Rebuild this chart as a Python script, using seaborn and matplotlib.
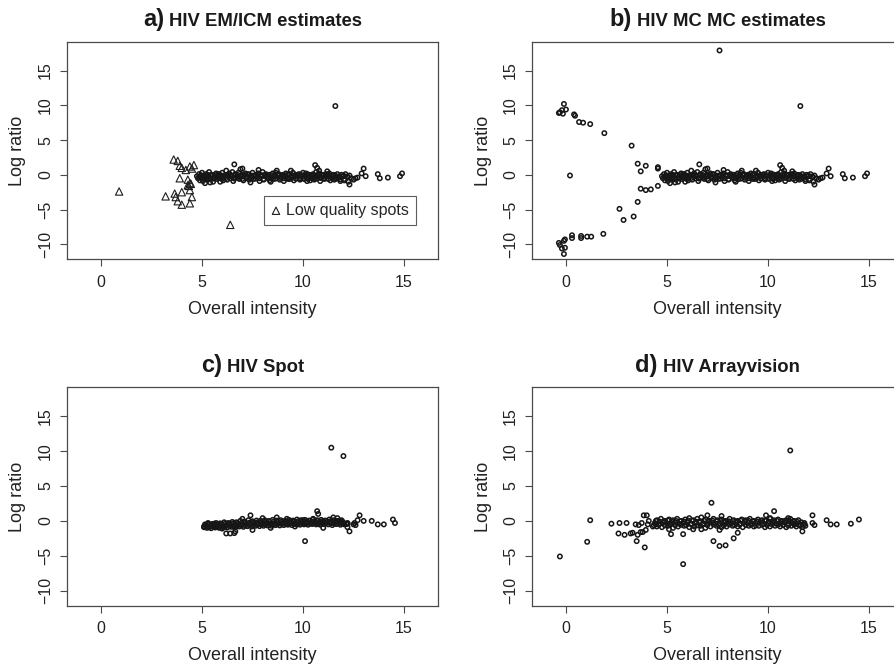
import matplotlib
matplotlib.use("Agg")
import matplotlib.pyplot as plt
import pandas as pd
import seaborn as sns

# --- dense band shared by panels a) and b) (same spots, same estimates) ---
ab_top_x = [5.0, 5.2, 5.35, 5.5, 5.7, 5.85, 6.0, 6.2, 6.35, 6.5, 6.65, 6.8, 7.0, 7.15, 7.3,
            7.5, 7.65, 7.8, 8.0, 8.15, 8.3, 8.5, 8.65, 8.8, 9.0, 9.15, 9.3, 9.5, 9.65, 9.8,
            10.0, 10.15, 10.3, 10.5, 10.65, 10.8, 11.0, 11.15, 11.3, 11.5, 11.7, 11.9, 12.1, 12.3]
ab_top_y = [0.3, 0.1, 0.4, 0.0, 0.2, 0.1, 0.3, 0.0, 0.2, 0.4, 0.1, 0.3, 0.0, 0.2, 0.1,
            0.3, 0.0, 0.2, 0.4, 0.1, 0.0, 0.2, 0.3, 0.1, 0.0, 0.2, 0.1, 0.3, 0.0, 0.1,
            0.3, 0.2, 0.0, 0.1, 0.4, 0.2, 0.0, 0.1, 0.2, 0.0, 0.1, 0.0, 0.1, -0.1]
ab_up_x = [4.95, 5.15, 5.3, 5.5, 5.65, 5.8, 5.95, 6.15, 6.3, 6.45, 6.6, 6.75, 6.95, 7.1, 7.25,
           7.45, 7.6, 7.75, 7.95, 8.1, 8.25, 8.45, 8.6, 8.75, 8.95, 9.1, 9.25, 9.45, 9.6, 9.75,
           9.95, 10.1, 10.25, 10.45, 10.6, 10.75, 10.95, 11.1, 11.25, 11.45, 11.6, 11.8, 12.0, 12.2]
ab_up_y = [-0.05, -0.1, 0.0, -0.15, -0.05, 0.05, -0.1, -0.05, 0.0, -0.15, -0.05, 0.0, -0.1, -0.05, 0.05,
           -0.1, -0.15, 0.0, -0.05, -0.1, 0.0, -0.05, -0.15, 0.05, -0.1, -0.05, 0.0, -0.1, -0.15, 0.0,
           -0.05, -0.1, 0.05, -0.05, -0.15, 0.0, -0.1, -0.05, 0.0, -0.15, -0.1, -0.2, -0.1, -0.25]
ab_mid_x = [4.9, 5.1, 5.25, 5.45, 5.6, 5.8, 5.95, 6.1, 6.3, 6.45, 6.6, 6.75, 6.9, 7.1, 7.25,
            7.4, 7.6, 7.75, 7.9, 8.1, 8.25, 8.4, 8.6, 8.75, 8.9, 9.1, 9.25, 9.4, 9.6, 9.75,
            9.9, 10.1, 10.25, 10.4, 10.6, 10.75, 10.9, 11.1, 11.25, 11.4, 11.6, 11.8, 12.0, 12.2, 12.4]
ab_mid_y = [-0.3, -0.2, -0.4, -0.1, -0.3, -0.2, -0.4, -0.3, -0.1, -0.2, -0.4, -0.3, -0.2, -0.1, -0.3,
            -0.4, -0.2, -0.3, -0.1, -0.2, -0.3, -0.4, -0.2, -0.1, -0.3, -0.2, -0.4, -0.3, -0.1, -0.2,
            -0.3, -0.2, -0.4, -0.1, -0.3, -0.2, -0.4, -0.3, -0.2, -0.1, -0.3, -0.4, -0.2, -0.3, -0.5]
ab_dn_x = [5.0, 5.2, 5.4, 5.6, 5.85, 6.0, 6.2, 6.4, 6.6, 6.8, 7.0, 7.2, 7.45, 7.65, 7.85, 8.05,
           8.25, 8.45, 8.65, 8.85, 9.05, 9.25, 9.45, 9.65, 9.85, 10.05, 10.25, 10.45, 10.65, 10.85,
           11.05, 11.25, 11.45, 11.65, 11.85, 12.05]
ab_dn_y = [-0.5, -0.6, -0.45, -0.55, -0.5, -0.6, -0.45, -0.5, -0.55, -0.45, -0.6, -0.5, -0.45, -0.55,
           -0.5, -0.6, -0.45, -0.5, -0.55, -0.45, -0.5, -0.6, -0.45, -0.55, -0.5, -0.45, -0.6, -0.5,
           -0.55, -0.45, -0.5, -0.6, -0.5, -0.55, -0.65, -0.6]
ab_low_x = [5.05, 5.3, 5.55, 5.75, 6.05, 6.25, 6.55, 6.85, 7.05, 7.35, 7.55, 7.85, 8.05, 8.35, 8.55,
            8.85, 9.05, 9.35, 9.55, 9.85, 10.05, 10.35, 10.55, 10.85, 11.05, 11.35, 11.55, 11.85, 12.05, 12.25]
ab_low_y = [-0.9, -0.7, -1.0, -0.6, -0.8, -0.7, -0.9, -0.6, -0.8, -0.7, -0.6, -0.9, -0.7, -0.8, -0.6,
            -0.7, -0.9, -0.6, -0.8, -0.7, -0.6, -0.8, -0.7, -0.9, -0.6, -0.8, -0.7, -0.9, -0.8, -1.0]
ab_extra_x = [4.75, 4.8, 4.85, 4.9, 5.15, 5.4, 5.9, 6.6, 6.9, 7.0, 7.8, 8.7, 10.6, 10.7, 10.8, 11.2, 11.6,
              12.3, 12.5, 12.6, 12.7, 12.9, 13.0, 13.1, 13.7, 13.8, 14.2, 14.8, 14.9, 9.4, 10.2, 8.4, 6.2, 7.4]
ab_extra_y = [-0.2, -0.5, 0.1, -0.8, -1.2, -1.1, -1.0, 1.5, 0.8, 0.9, 0.7, 0.6, 1.4, 1.0, 0.6, 0.5, 9.9,
              -1.4, -0.7, -0.5, -0.4, 0.2, 0.9, -0.2, 0.1, -0.5, -0.4, -0.2, 0.2, 0.6, -0.9, -1.0, 0.6, -1.1]

# a) low quality spots (triangles)
lowq_x = [0.9, 3.2, 3.6, 3.8, 3.9, 4.0, 4.2, 4.4, 4.6, 4.5, 3.9, 4.3, 4.4, 4.35, 4.4, 4.45, 3.65,
          3.7, 3.8, 4.0, 4.0, 4.4, 4.5, 6.4, 4.3]
lowq_y = [-2.4, -3.1, 2.2, 2.0, 1.3, 1.0, 0.7, 1.2, 1.4, 0.9, -0.5, -0.7, -1.2, -1.6, -2.2, -1.3, -2.7,
          -3.2, -3.8, -2.5, -4.3, -4.1, -3.2, -7.2, -1.5]

# b) MC estimates of the same low quality spots
mc_x = [-0.3, -0.2, -0.15, -0.35, -0.1, 0.0, 0.4, 0.45, 0.65, 0.85, 1.2, 1.9, 3.25, 0.2, 3.55, 3.7,
        3.95, 4.55, 4.55, 3.7, 3.95, 4.2, 4.55, 3.55, 2.65, 2.85, 3.35, 1.85, 0.3, 0.3, 0.75, 0.75,
        1.05, 1.25, -0.35, -0.3, -0.2, -0.1, -0.05, -0.05, -0.1, 7.6]
mc_y = [9.0, 9.3, 8.8, 8.9, 10.2, 9.4, 8.7, 8.5, 7.6, 7.5, 7.3, 6.0, 4.2, -0.1, 1.6, 0.5,
        1.3, 1.1, 0.9, -2.0, -2.2, -2.1, -1.6, -3.9, -4.9, -6.5, -6.0, -8.5, -8.7, -9.1, -8.8, -9.1,
        -8.9, -8.9, -9.8, -10.1, -10.6, -9.5, -9.3, -10.5, -11.4, 17.9]

# c) Spot
spot_top_x = [5.3, 5.5, 5.7, 5.9, 6.1, 6.3, 6.5, 6.7, 6.9, 7.1, 7.3, 7.5, 7.7, 7.9, 8.1, 8.3, 8.5,
              8.7, 8.9, 9.1, 9.3, 9.5, 9.7, 9.9, 10.1, 10.3, 10.5, 10.7, 10.9, 11.1, 11.3, 11.5, 11.7, 11.9]
spot_top_y = [-0.4, -0.45, -0.3, -0.35, -0.2, -0.3, -0.15, -0.2, 0.0, -0.1, 0.1, -0.05, 0.05, 0.0, 0.1,
              0.0, 0.15, 0.05, 0.1, 0.0, 0.15, 0.05, 0.2, 0.1, 0.15, 0.05, 0.2, 0.1, 0.15, 0.05, 0.2,
              0.1, 0.0, 0.1]
spot_up_x = [5.2, 5.35, 5.55, 5.75, 5.95, 6.15, 6.35, 6.55, 6.75, 6.95, 7.15, 7.35, 7.55, 7.75, 7.95,
             8.15, 8.35, 8.55, 8.75, 8.95, 9.15, 9.35, 9.55, 9.75, 9.95, 10.15, 10.35, 10.55, 10.75,
             10.95, 11.15, 11.35, 11.55, 11.75, 11.95]
spot_up_y = [-0.6, -0.55, -0.5, -0.5, -0.45, -0.4, -0.4, -0.35, -0.3, -0.3, -0.25, -0.25, -0.2, -0.2,
             -0.2, -0.15, -0.15, -0.1, -0.15, -0.1, -0.1, -0.05, -0.1, -0.05, -0.05, -0.1, 0.0, -0.05,
             0.0, -0.05, 0.0, -0.05, -0.1, -0.05, -0.1]
spot_mid_x = [5.1, 5.2, 5.4, 5.6, 5.8, 6.0, 6.2, 6.4, 6.6, 6.8, 7.0, 7.2, 7.4, 7.6, 7.8, 8.0, 8.2,
              8.4, 8.6, 8.8, 9.0, 9.2, 9.4, 9.6, 9.8, 10.0, 10.2, 10.4, 10.6, 10.8, 11.0, 11.2, 11.4,
              11.6, 11.8, 12.0, 12.2]
spot_mid_y = [-0.8, -0.7, -0.75, -0.65, -0.7, -0.55, -0.6, -0.5, -0.55, -0.45, -0.5, -0.4, -0.45, -0.35,
              -0.4, -0.35, -0.3, -0.4, -0.3, -0.35, -0.25, -0.3, -0.2, -0.3, -0.25, -0.3, -0.2, -0.25,
              -0.15, -0.25, -0.2, -0.15, -0.25, -0.2, -0.1, -0.25, -0.3]
spot_dn_x = [5.15, 5.35, 5.55, 5.75, 5.95, 6.15, 6.35, 6.55, 6.75, 6.95, 7.15, 7.35, 7.55, 7.75, 7.95,
             8.15, 8.35, 8.55, 8.75, 8.95, 9.15, 9.35, 9.55, 9.75, 9.95, 10.15, 10.35, 10.55, 10.75,
             10.95, 11.15, 11.35, 11.55, 11.75, 11.95, 12.15]
spot_dn_y = [-0.9, -0.9, -0.85, -0.85, -0.8, -0.8, -0.75, -0.75, -0.7, -0.65, -0.65, -0.6, -0.6, -0.55,
             -0.55, -0.5, -0.5, -0.5, -0.45, -0.45, -0.45, -0.4, -0.4, -0.4, -0.35, -0.4, -0.35, -0.35,
             -0.4, -0.35, -0.3, -0.35, -0.4, -0.35, -0.4, -0.45]
spot_low_x = [5.25, 5.45, 5.65, 5.85, 6.05, 6.25, 6.45, 6.65, 6.85, 7.05, 7.25, 7.45, 7.65, 7.85, 8.05,
              8.25, 8.45, 8.65, 8.85, 9.05, 9.25, 9.45, 9.65, 9.85, 10.05, 10.25, 10.45, 10.65, 10.85,
              11.05, 11.25, 11.45, 11.65, 11.85, 12.05]
spot_low_y = [-1.0, -1.05, -0.95, -1.0, -0.9, -0.95, -0.85, -0.9, -0.8, -0.85, -0.75, -0.8, -0.7, -0.75,
              -0.7, -0.65, -0.7, -0.6, -0.65, -0.6, -0.55, -0.6, -0.5, -0.55, -0.5, -0.55, -0.45, -0.5,
              -0.55, -0.45, -0.5, -0.6, -0.45, -0.55, -0.5]
spot_extra_x = [5.1, 5.15, 5.3, 5.6, 6.0, 6.2, 6.4, 6.6, 6.65, 6.6, 7.0, 7.4, 7.5, 8.0, 8.4, 8.7, 9.2,
                9.6, 10.0, 10.1, 10.5, 10.7, 10.75, 11.0, 11.5, 11.7, 12.2, 12.3, 12.2, 12.5, 12.55,
                12.6, 12.7, 12.8, 13.0, 13.4, 13.7, 14.0, 14.45, 14.55, 11.4, 12.0]
spot_extra_y = [-0.9, -0.5, -0.3, -0.4, -1.1, -1.8, -1.8, -1.75, -1.5, -0.9, 0.3, 0.8, -1.3, 0.4, -1.0,
                0.5, 0.3, -0.8, 0.1, -2.9, 0.3, 1.4, 1.0, -1.0, 0.5, 0.4, -0.4, -1.5, -0.9, -0.5, -0.3,
                -0.6, 0.1, 0.8, 0.0, 0.0, -0.5, -0.5, 0.2, -0.3, 10.5, 9.3]

# d) Arrayvision
av_top_x = [4.5, 4.7, 4.9, 5.1, 5.3, 5.5, 5.7, 5.9, 6.1, 6.3, 6.5, 6.7, 6.9, 7.1, 7.3, 7.5, 7.7, 7.9,
            8.1, 8.3, 8.5, 8.7, 8.9, 9.1, 9.3, 9.5, 9.7, 9.9, 10.1, 10.3, 10.5, 10.7, 10.9, 11.1, 11.3, 11.5]
av_top_y = [0.1, 0.3, 0.0, 0.2, 0.1, 0.3, 0.0, 0.2, 0.4, 0.1, 0.3, 0.5, 0.2, 0.0, 0.3, 0.1, 0.2, 0.0,
            0.3, 0.1, 0.0, 0.2, 0.1, 0.3, 0.0, 0.2, 0.1, 0.0, 0.3, 0.1, 0.2, 0.0, 0.1, 0.3, 0.0, 0.1]
av_up_x = [4.45, 4.65, 4.85, 5.05, 5.25, 5.45, 5.65, 5.85, 6.05, 6.25, 6.45, 6.65, 6.85, 7.05, 7.25,
           7.45, 7.65, 7.85, 8.05, 8.25, 8.45, 8.65, 8.85, 9.05, 9.25, 9.45, 9.65, 9.85, 10.05, 10.25,
           10.45, 10.65, 10.85, 11.05, 11.25, 11.45, 11.65]
av_up_y = [0.0, -0.1, -0.05, 0.05, -0.1, 0.0, -0.05, -0.1, 0.05, 0.0, -0.1, -0.05, 0.0, -0.1, 0.05,
           -0.05, 0.0, -0.1, -0.05, 0.0, -0.1, 0.05, -0.05, 0.0, -0.1, -0.05, 0.0, 0.05, -0.1, -0.05,
           0.0, -0.1, -0.05, 0.0, -0.1, -0.15, -0.2]
av_mid_x = [4.4, 4.6, 4.8, 5.0, 5.2, 5.4, 5.6, 5.8, 6.0, 6.2, 6.4, 6.6, 6.8, 7.0, 7.2, 7.4, 7.6, 7.8,
            8.0, 8.2, 8.4, 8.6, 8.8, 9.0, 9.2, 9.4, 9.6, 9.8, 10.0, 10.2, 10.4, 10.6, 10.8, 11.0, 11.2,
            11.4, 11.6, 11.8]
av_mid_y = [-0.3, -0.5, -0.2, -0.4, -0.3, -0.2, -0.4, -0.3, -0.2, -0.4, -0.3, -0.2, -0.4, -0.3, -0.2,
            -0.4, -0.3, -0.2, -0.4, -0.3, -0.2, -0.4, -0.3, -0.2, -0.4, -0.3, -0.2, -0.4, -0.3, -0.2,
            -0.4, -0.3, -0.2, -0.4, -0.3, -0.4, -0.5, -0.3]
av_dn_x = [4.35, 4.6, 4.9, 5.15, 5.4, 5.7, 5.95, 6.2, 6.5, 6.75, 7.0, 7.3, 7.55, 7.8, 8.1, 8.35, 8.6,
           8.9, 9.15, 9.4, 9.7, 9.95, 10.2, 10.5, 10.75, 11.0, 11.3, 11.55, 11.85]
av_dn_y = [-0.6, -0.55, -0.65, -0.5, -0.6, -0.55, -0.6, -0.5, -0.65, -0.55, -0.6, -0.5, -0.55, -0.65,
           -0.5, -0.6, -0.55, -0.6, -0.5, -0.65, -0.55, -0.6, -0.5, -0.55, -0.6, -0.65, -0.55, -0.6, -0.7]
av_low_x = [4.5, 4.75, 5.05, 5.3, 5.55, 5.85, 6.1, 6.35, 6.65, 6.9, 7.15, 7.45, 7.7, 7.95, 8.25, 8.5,
            8.75, 9.05, 9.3, 9.55, 9.85, 10.1, 10.35, 10.6, 10.9, 11.15, 11.4, 11.7]
av_low_y = [-0.8, -0.9, -0.7, -1.0, -0.8, -0.7, -0.9, -0.8, -0.7, -1.0, -0.8, -0.7, -0.9, -0.8, -0.7,
            -0.8, -0.9, -0.7, -0.8, -0.7, -0.9, -0.8, -0.7, -0.8, -0.9, -0.7, -0.8, -0.9]
av_extra_x = [-0.3, 1.05, 1.2, 2.25, 2.6, 2.65, 2.9, 3.0, 3.2, 3.3, 3.45, 3.5, 3.55, 3.6, 3.7, 3.75,
              3.8, 3.85, 3.9, 3.95, 4.0, 4.05, 4.1, 4.3, 4.45, 5.8, 5.1, 5.2, 5.8, 7.2, 7.3, 7.6, 7.9,
              7.6, 7.0, 7.7, 6.7, 6.3, 8.3, 8.5, 10.3, 9.9, 10.1, 11.0, 11.1, 11.7, 12.2, 12.2, 12.3,
              12.9, 13.1, 13.4, 14.1, 14.5, 11.6, 11.8]
av_extra_y = [-5.1, -3.0, 0.1, -0.4, -1.8, -0.3, -2.0, -0.3, -1.8, -1.7, -0.5, -2.9, -2.0, -0.6, -1.6,
              -0.3, -1.6, 0.8, -3.8, -1.3, 0.8, -0.5, 0.0, -0.8, -0.5, -6.2, -1.2, -1.9, -1.9, 2.6,
              -2.9, -3.6, -3.5, -1.3, 0.8, 0.7, -1.2, -1.2, -2.5, -1.7, 1.4, 0.8, 0.4, 0.4, 10.1, -1.5,
              0.8, -0.3, -0.6, 0.1, -0.5, -0.5, -0.4, 0.2, -0.7, -0.5]

band_ab = pd.DataFrame({
    "intensity": ab_top_x + ab_up_x + ab_mid_x + ab_dn_x + ab_low_x + ab_extra_x,
    "logratio": ab_top_y + ab_up_y + ab_mid_y + ab_dn_y + ab_low_y + ab_extra_y,
})
lowq = pd.DataFrame({"intensity": lowq_x, "logratio": lowq_y})
mc = pd.DataFrame({"intensity": mc_x, "logratio": mc_y})
spot = pd.DataFrame({
    "intensity": spot_top_x + spot_up_x + spot_mid_x + spot_dn_x + spot_low_x + spot_extra_x,
    "logratio": spot_top_y + spot_up_y + spot_mid_y + spot_dn_y + spot_low_y + spot_extra_y,
})
av = pd.DataFrame({
    "intensity": av_top_x + av_up_x + av_mid_x + av_dn_x + av_low_x + av_extra_x,
    "logratio": av_top_y + av_up_y + av_mid_y + av_dn_y + av_low_y + av_extra_y,
})

sns.set_style("white")
plt.rcParams["font.family"] = ["Liberation Sans", "DejaVu Sans"]

W, H = 894, 668
fig = plt.figure(figsize=(W / 100, H / 100), dpi=100)

# axes boxes in pixels: left, top, width, height (right column runs past the edge)
boxes = {
    "a": (67, 41.7, 371, 217.6),
    "b": (532, 41.7, 371, 217.6),
    "c": (67, 387.3, 371, 218.4),
    "d": (532, 387.3, 371, 218.4),
}
axes = {}
for key, (l, t, w, h) in boxes.items():
    axes[key] = fig.add_axes([l / W, (H - t - h) / H, w / W, h / H])

pt_kw = dict(marker="o", s=10, facecolor="none", edgecolor="#161616", linewidth=1.1)

sns.scatterplot(data=band_ab, x="intensity", y="logratio", ax=axes["a"], **pt_kw)
sns.scatterplot(data=lowq, x="intensity", y="logratio", ax=axes["a"], marker="^", s=28,
                facecolor="none", edgecolor="#1e1e1e", linewidth=0.8, label="Low quality spots")
sns.scatterplot(data=band_ab, x="intensity", y="logratio", ax=axes["b"], **pt_kw)
sns.scatterplot(data=mc, x="intensity", y="logratio", ax=axes["b"], **pt_kw)
sns.scatterplot(data=spot, x="intensity", y="logratio", ax=axes["c"], **pt_kw)
sns.scatterplot(data=av, x="intensity", y="logratio", ax=axes["d"], **pt_kw)

for ax in axes.values():
    ax.set_xlim(-1.68, 16.68)
    ax.set_ylim(-12.16, 19.16)
    ax.set_xticks([0, 5, 10, 15])
    ax.set_yticks([-10, -5, 0, 5, 10, 15])
    ax.set_xlabel("")
    ax.set_ylabel("")
    for sp in ax.spines.values():
        sp.set_color("#4a4a4a")
        sp.set_linewidth(0.9)
    ax.tick_params(axis="both", direction="out", length=5, width=0.8, color="#4a4a4a",
                   labelsize=11.5, labelcolor="#222222", bottom=True, left=True)
    ax.tick_params(axis="x", pad=6)
    ax.tick_params(axis="y", pad=5, labelrotation=90)
    for lab in ax.get_yticklabels():
        lab.set_va("center")

leg = axes["a"].legend(loc="lower left", bbox_to_anchor=(0.531, 0.157), borderaxespad=0,
                       fontsize=11.5, frameon=True, fancybox=False, handlelength=0.6,
                       handletextpad=0.3, borderpad=0.45)
leg.get_frame().set_edgecolor("#333333")
leg.get_frame().set_linewidth(0.8)

titles = {
    "a": ("a)", "HIV EM/ICM estimates"),
    "b": ("b)", "HIV MC MC estimates"),
    "c": ("c)", "HIV Spot"),
    "d": ("d)", "HIV Arrayvision"),
}
renderer = fig.canvas.get_renderer()
for key, (letter, text) in titles.items():
    l, t, w, h = boxes[key]
    cx = l + w / 2
    base = H - (t - 15.5)
    t1 = fig.text(0, base / H, letter, fontsize=17, fontweight="bold", va="baseline", color="#1a1a1a")
    t2 = fig.text(0, base / H, text, fontsize=13.3, fontweight="bold", va="baseline", color="#1a1a1a")
    w1 = t1.get_window_extent(renderer).width
    w2 = t2.get_window_extent(renderer).width
    gap = 5
    start = cx - (w1 + gap + w2) / 2
    t1.set_x(start / W)
    t2.set_x((start + w1 + gap) / W)

    # axis titles
    fig.text(cx / W, (H - (t + h + 50)) / H, "Overall intensity", fontsize=13,
             ha="center", va="center", color="#222222")
    fig.text((l - 49) / W, (H - (t + h / 2)) / H, "Log ratio", fontsize=13, rotation=90,
             ha="center", va="center", color="#222222")

fig.savefig("out.png", dpi=100)
